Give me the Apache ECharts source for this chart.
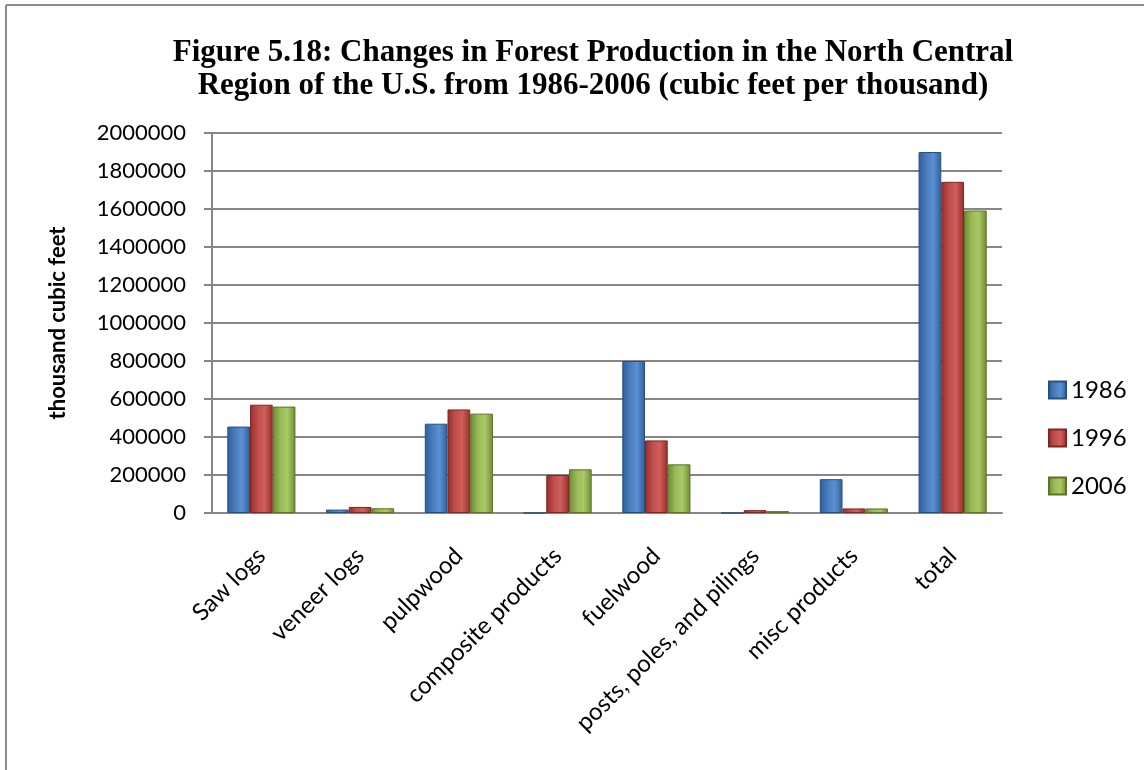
<!DOCTYPE html>
<html>
<head>
<meta charset="utf-8">
<script src="https://cdn.jsdelivr.net/npm/echarts@6/dist/echarts.min.js"></script>
<style>
html,body{margin:0;padding:0;background:#fff;overflow:hidden;}
#chart{width:1144px;height:770px;}
</style>
</head>
<body>
<div id="chart"></div>
<script>
const categories = ['Saw logs', 'veneer logs', 'pulpwood', 'composite products', 'fuelwood', 'posts, poles, and pilings', 'misc products', 'total'];
const seriesNames = ['1986', '1996', '2006'];
const values1986 = [455000, 18000, 470000, 0, 800000, 0, 178000, 1900000];
const values1996 = [570000, 32000, 545000, 200000, 382000, 15000, 24000, 1743000];
const values2006 = [560000, 25000, 523000, 230000, 256000, 10000, 24000, 1592000];
const yTicks = [0, 200000, 400000, 600000, 800000, 1000000, 1200000, 1400000, 1600000, 1800000, 2000000];

function grad(dark, mid, light) {
  return new echarts.graphic.LinearGradient(0, 0, 1, 0, [
    {offset: 0, color: dark},
    {offset: 0.35, color: mid},
    {offset: 0.65, color: light},
    {offset: 1, color: dark}
  ]);
}
const styles = [
  {color: grad('#2f5f99', '#4a7dbf', '#5b90d3'), border: '#27507f'},
  {color: grad('#962d2a', '#c0504d', '#d05e5a'), border: '#7e2624'},
  {color: grad('#6f8a34', '#9bbb59', '#a9c866'), border: '#5c7329'}
];
const allValues = [values1986, values1996, values2006];

const chart = echarts.init(document.getElementById('chart'));
chart.setOption({
  animation: false,
  backgroundColor: '#fff',
  textStyle: {fontFamily: 'Lato'},
  title: {
    text: 'Figure 5.18: Changes in Forest Production in the North Central\nRegion of the U.S. from 1986-2006 (cubic feet per thousand)',
    left: 588, top: 31, textAlign: 'center',
    textStyle: {fontFamily: 'Liberation Serif', fontWeight: 'bold', fontSize: 31, lineHeight: 33, color: '#000'}
  },
  graphic: [
    {type: 'line', shape: {x1: 6, y1: 5, x2: 6, y2: 800}, style: {stroke: '#8c8c8c', lineWidth: 2}, silent: true},
    {type: 'line', shape: {x1: 6, y1: 5, x2: 1200, y2: 5}, style: {stroke: '#8c8c8c', lineWidth: 2}, silent: true}
  ],
  legend: {
    orient: 'vertical', left: 1043, top: 372,
    itemWidth: 17, itemHeight: 17, itemGap: 22, icon: 'rect',
    textStyle: {fontFamily: 'Lato', fontSize: 24, lineHeight: 26, color: '#000'},
    data: seriesNames
  },
  grid: {left: 212, right: 142, top: 133, bottom: 257},
  xAxis: {
    type: 'category', data: categories,
    axisLine: {lineStyle: {color: '#868686', width: 2}},
    axisTick: {show: false},
    axisLabel: {rotate: 45, interval: 0, margin: 39, fontSize: 24, color: '#000', fontFamily: 'Lato'}
  },
  yAxis: {
    type: 'value', min: yTicks[0], max: yTicks[yTicks.length - 1], interval: 200000,
    name: 'thousand cubic feet', nameLocation: 'middle', nameGap: 143, nameRotate: 90,
    nameTextStyle: {fontFamily: 'Lato', fontWeight: 'bold', fontSize: 22, color: '#000'},
    axisLine: {show: true, lineStyle: {color: '#868686', width: 2}},
    axisTick: {show: true, length: 8, lineStyle: {color: '#868686', width: 2}},
    axisLabel: {margin: 26, fontSize: 22, color: '#000', fontFamily: 'Lato', formatter: v => String(v)},
    splitLine: {lineStyle: {color: '#868686', width: 2}}
  },
  series: seriesNames.map((n, i) => ({
    name: n, type: 'bar', data: allValues[i],
    barGap: '0%', barCategoryGap: '31%',
    itemStyle: {color: styles[i].color, borderColor: styles[i].border, borderWidth: 1}
  }))
});
</script>
</body>
</html>
